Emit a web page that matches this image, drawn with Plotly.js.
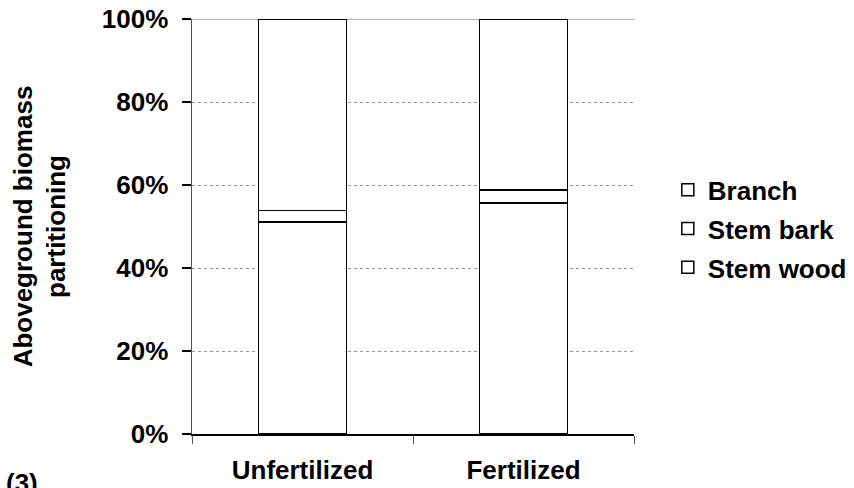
<!DOCTYPE html>
<html>
<head>
<meta charset="utf-8">
<script src="https://cdn.plot.ly/plotly-3.0.1.min.js"></script>
<style>body{margin:0;padding:0;background:#fff}#chart{width:854px;height:488px}</style>
</head>
<body>
<div id="chart"></div>
<script>
var categories = ["Unfertilized", "Fertilized"];
var stemWood = [51.1, 55.7];
var stemBark = [2.8, 3.1];
var branch = [46.1, 41.2];
var seriesNames = ["Stem wood", "Stem bark", "Branch"];
var yTicks = [0, 20, 40, 60, 80, 100];
var yTickText = ["0%", "20%", "40%", "60%", "80%", "100%"];

var font = "Liberation Sans, Arial, sans-serif";
var FS = 26;
function mk(name, vals, rank) {
  return {
    type: "bar", name: name, x: categories, y: vals, width: 0.4,
    legendgroup: name, legendrank: rank,
    marker: {color: "#ffffff", line: {color: "#000000", width: 1.5}},
    hoverinfo: "skip"
  };
}
var data = [mk(seriesNames[0], stemWood, 3), mk(seriesNames[1], stemBark, 2), mk(seriesNames[2], branch, 1)];

var layout = {
  width: 854, height: 488,
  margin: {l: 192, r: 220, t: 19, b: 54, autoexpand: false},
  barmode: "stack",
  paper_bgcolor: "#ffffff", plot_bgcolor: "#ffffff",
  font: {family: font, size: FS, color: "#000000", weight: "bold"},
  showlegend: true,
  legend: {
    xref: "container", yref: "container",
    x: 0.782, y: 0.531, xanchor: "left", yanchor: "middle",
    traceorder: "grouped", tracegroupgap: 2,
    font: {family: font, size: FS, color: "#000", weight: "bold"},
    itemwidth: 30, bgcolor: "rgba(0,0,0,0)"
  },
  xaxis: {
    type: "category", range: [-0.5, 1.5],
    showline: true, linecolor: "#000", linewidth: 1.5,
    ticks: "outside", tickson: "boundaries", ticklen: 8, tickcolor: "#555", tickwidth: 1,
    showgrid: false, zeroline: false,
    ticklabelstandoff: 12,
    tickfont: {family: font, size: FS, color: "#000", weight: "bold"}
  },
  yaxis: {
    range: [0, 100], tickmode: "array", tickvals: yTicks, ticktext: yTickText,
    showline: true, linecolor: "#555", linewidth: 1.5,
    ticks: "outside", ticklen: 9, tickcolor: "#000", tickwidth: 1.5,
    showgrid: true, gridcolor: "#999", griddash: "dot", gridwidth: 1,
    zeroline: false, ticklabelstandoff: 8,
    tickfont: {family: font, size: FS, color: "#000", weight: "bold"},
    title: {text: "Aboveground biomass<br>partitioning", standoff: 28,
            font: {family: font, size: FS, color: "#000", weight: "bold"}}
  },
  shapes: [
    {type: "line", xref: "paper", yref: "y", x0: 0, x1: 1, y0: 100, y1: 100,
     line: {color: "#999", width: 1.5}, layer: "below"}
  ],
  annotations: [
    {text: "(3)", xref: "paper", yref: "paper", x: -0.425, y: -0.077, xanchor: "left", yanchor: "top",
     showarrow: false, font: {family: font, size: FS, color: "#000", weight: "bold"}}
  ]
};
Plotly.newPlot("chart", data, layout, {displayModeBar: false, staticPlot: true});
</script>
</body>
</html>
